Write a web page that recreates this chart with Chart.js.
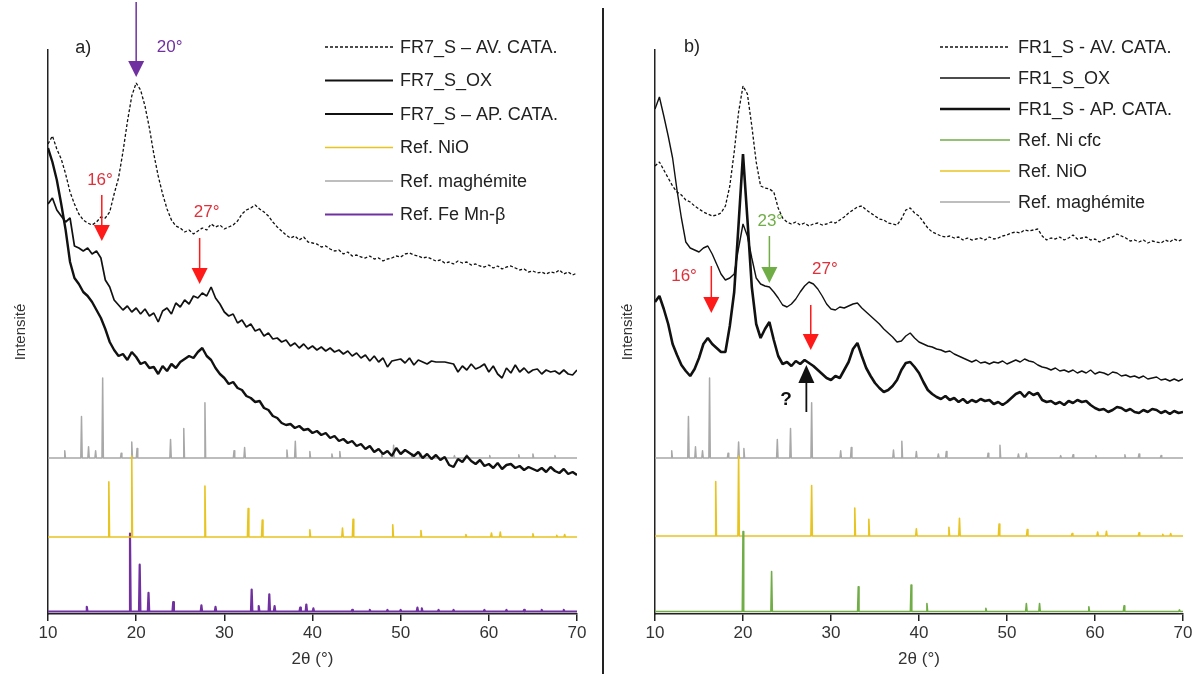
<!DOCTYPE html>
<html><head><meta charset="utf-8">
<script src="https://cdn.jsdelivr.net/npm/chart.js@4/dist/chart.umd.min.js"></script>
<style>
html,body{margin:0;padding:0;background:#fff;width:1196px;height:674px;overflow:hidden;}
#ca{position:absolute;left:0;top:0;}
#cb{position:absolute;left:600px;top:0;}
#div{position:absolute;left:602px;top:8px;width:2px;height:666px;background:#222;z-index:5;}
</style></head>
<body>
<canvas id="ca" width="600" height="674"></canvas>
<canvas id="cb" width="596" height="674"></canvas>
<div id="div"></div>
<script>
// ---------- DATA ----------
const twoTheta = [10,10.5,11,11.5,12,12.5,13,13.5,14,14.5,15,15.5,16,16.5,17,17.5,18,18.5,19,19.5,20,20.5,21,21.5,22,22.5,23,23.5,24,24.5,25,25.5,26,26.5,27,27.5,28,28.5,29,29.5,30,30.5,31,31.5,32,32.5,33,33.5,34,34.5,35,35.5,36,36.5,37,37.5,38,38.5,39,39.5,40,40.5,41,41.5,42,42.5,43,43.5,44,44.5,45,45.5,46,46.5,47,47.5,48,48.5,49,49.5,50,50.5,51,51.5,52,52.5,53,53.5,54,54.5,55,55.5,56,56.5,57,57.5,58,58.5,59,59.5,60,60.5,61,61.5,62,62.5,63,63.5,64,64.5,65,65.5,66,66.5,67,67.5,68,68.5,69,69.5,70];

// Panel a) FR7_S
const fr7AvCata = [470,478,465,455,440,422,410,400,394,391,389,392,397,396,402,420,436,462,492,518,531,524,508,486,460,438,420,405,394,388,386,382,384,380,383,386,384,390,387,389,385,387,389,393,400,404,406,409,405,402,398,392,387,383,379,376,378,374,377,372,371,370,367,368,365,363,364,360,362,358,359,357,356,358,355,356,353,355,356,358,357,360,361,359,358,356,357,355,353,354,351,352,350,353,351,352,349,350,348,347,349,346,348,345,347,348,346,344,345,342,343,341,342,340,342,341,344,340,342,339,341];
const fr7Ox = [410,416,404,398,392,396,368,366,363,366,360,363,356,334,327,314,309,304,308,302,306,300,305,298,301,292,303,306,300,311,307,314,310,318,316,321,318,327,316,310,302,298,300,291,294,287,290,283,285,278,281,275,276,272,274,268,271,266,270,265,268,264,267,263,266,262,264,260,263,258,261,256,259,253,258,252,256,247,253,254,255,251,256,249,254,252,250,253,252,252,252,251,250,242,248,244,250,245,247,250,242,248,240,236,246,241,249,242,246,241,244,245,240,244,242,243,240,244,240,239,244];
const fr7ApCata = [466,452,434,410,384,352,336,330,322,318,312,304,296,285,272,264,258,260,254,262,257,250,252,246,247,240,248,243,250,246,252,255,258,256,262,266,258,254,246,240,236,230,232,226,224,218,216,212,213,206,204,198,196,191,189,190,186,188,184,185,181,183,179,181,176,178,173,175,171,173,168,170,165,168,162,165,160,163,158,166,160,164,161,158,162,156,160,155,159,154,157,149,147,155,152,158,153,150,154,148,150,146,151,145,149,150,146,148,144,147,145,143,146,142,147,143,141,145,140,142,139];

// Panel b) FR1_S
const fr1AvCata = [448,452,444,436,428,422,419,414,412,408,405,402,400,398,399,401,408,428,462,502,528,520,488,452,428,426,425,422,406,396,392,390,392,389,391,388,390,391,389,390,392,391,394,397,401,404,407,408,404,401,398,395,394,391,390,389,395,404,406,401,398,392,386,382,380,378,377,378,376,377,374,376,374,375,376,374,377,375,376,378,379,381,382,381,384,383,384,385,378,374,376,375,377,374,376,379,375,376,377,374,375,372,374,376,377,380,378,376,373,374,372,374,371,373,372,371,374,372,375,373,375];
const fr1Ox = [505,517,498,478,456,424,396,372,366,364,362,366,368,360,350,340,334,336,340,366,390,378,356,336,330,328,327,322,316,309,307,310,315,322,328,332,330,325,318,310,305,304,307,306,308,310,311,306,302,298,294,290,285,281,277,272,273,278,281,276,272,270,268,267,265,264,262,263,260,258,256,254,252,254,251,252,250,252,251,253,250,252,254,252,255,253,252,249,247,246,244,246,243,244,242,244,241,243,241,244,240,242,241,239,242,241,238,239,237,238,236,238,235,236,237,234,235,233,235,233,235];
const fr1ApCata = [312,318,305,290,270,259,249,243,238,245,256,270,276,270,266,262,262,288,322,390,460,395,327,290,276,285,292,274,258,250,252,248,253,250,254,251,248,244,240,236,234,238,236,244,252,265,271,258,246,238,231,226,222,224,228,234,244,251,252,247,241,232,224,220,217,215,218,214,216,212,215,211,214,212,215,213,214,210,212,209,212,216,220,222,217,222,219,221,214,212,213,210,212,209,213,211,214,212,213,209,206,204,205,202,204,207,206,203,205,202,201,204,202,205,204,201,203,200,203,201,202];

// Reference patterns: peak positions (2θ) and relative intensities (%)
const maghemitePos = [11.9,13.8,14.6,15.4,16.2,18.3,19.5,20.1,23.9,25.4,27.8,31.1,32.3,37.1,38.05,39.7,42.2,43.1,47.85,49.2,51.3,52.2,56.1,57.5,60.1,63.4,65.0,67.5];
const maghemiteInt = [9,52,14,9,100,6,20,12,23,37,69,9,13,10,21,8,5,8,6,16,5,6,3,4,3,4,5,3];
const nioPos = [16.9,19.5,27.8,32.7,34.3,39.7,43.4,44.6,49.1,52.3,57.4,60.3,61.3,65.0,67.7,68.6];
const nioInt = [68,100,63,35,21,9,11,22,15,8,3,5,6,4,2,3];
const feMnPos = [14.4,19.3,20.4,21.4,24.2,27.4,29.0,33.1,33.9,35.1,35.7,38.6,39.3,40.1,44.5,46.5,48.5,50.0,51.9,52.4,54.3,56.0,59.5,62.0,64.0,66.0,68.5];
const feMnInt = [6,100,60,24,12,8,6,28,7,22,7,5,9,4,2,2,2,2,5,4,2,2,2,2,2,2,2];
const niCfcPos = [20.0,23.25,33.1,39.1,40.9,47.6,52.2,53.7,59.3,63.3,69.6];
const niCfcInt = [100,50,31,33,10,4,10,10,6,7,2];

const xTicks = [10,20,30,40,50,60,70];
const legendA = ['FR7_S – AV. CATA.','FR7_S_OX','FR7_S – AP. CATA.','Ref. NiO','Ref. maghémite','Ref. Fe Mn-β'];
const legendB = ['FR1_S - AV. CATA.','FR1_S_OX','FR1_S - AP. CATA.','Ref. Ni cfc','Ref. NiO','Ref. maghémite'];
const xTitle = '2θ (°)';
const yTitle = 'Intensité';

// ---------- HELPERS ----------
const FONT = "'Liberation Sans', Arial, sans-serif";
const C_NIO = '#e8c420', C_MAG = '#a8a8a8', C_FEMN = '#7030a0', C_NI = '#70ad47', C_RED = '#ff1a1a';

function series(ys){ return twoTheta.map((x,i)=>({x:x,y:ys[i]})); }
function sticks(pos, inten, base, full){
  const pts=[{x:10,y:base}];
  pos.forEach((p,i)=>{
    const h = base + inten[i]/100*full;
    pts.push({x:p-0.08,y:base},{x:p,y:h},{x:p+0.08,y:base});
  });
  pts.push({x:70,y:base});
  return pts;
}
function lineDs(label, data, color, width, dash, join){
  return {label, data, borderColor:color, borderWidth:width, borderDash:dash||[], pointRadius:0, tension:0, fill:false, borderJoinStyle:join||'round'};
}

function makeOptions(padLeft, padRight, anno, legendCfg){
  return {
    responsive:false, animation:false, devicePixelRatio:1,
    layout:{padding:{left:padLeft,right:padRight,top:50,bottom:2}},
    plugins:{legend:{display:false}, tooltip:{enabled:false},
      anno:{items:anno}, customLegend:legendCfg},
    scales:{
      x:{type:'linear', min:10, max:70,
        afterBuildTicks:(s)=>{ s.ticks = xTicks.map(v=>({value:v})); },
        afterFit:(s)=>{ s.height = 58; },
        ticks:{font:{family:FONT,size:17}, color:'#333', padding:2, maxRotation:0},
        grid:{display:true, drawOnChartArea:false, drawTicks:true, tickLength:7, color:'#222', lineWidth:1.5},
        border:{display:true, color:'#222', width:1.5},
        title:{display:true, text:xTitle, font:{family:FONT,size:17}, color:'#333', padding:{top:0,bottom:2}}
      },
      y:{min:0, max:564,
        afterFit:(s)=>{ s.width = 40; },
        ticks:{display:false},
        grid:{display:false},
        border:{display:true, color:'#222', width:1.5},
        title:{display:true, text:yTitle, font:{family:FONT,size:15}, color:'#333', padding:4}
      }
    }
  };
}

const annoPlugin = {
  id:'anno',
  afterDraw(chart, args, opts){
    const ctx = chart.ctx, xs = chart.scales.x, ys = chart.scales.y;
    ctx.save();
    (opts.items||[]).forEach(it=>{
      const X = xs.getPixelForValue(it.x);
      if(it.type==='text'){
        ctx.fillStyle = it.color; ctx.font = (it.bold?'bold ':'') + it.size + 'px ' + FONT;
        ctx.textAlign = 'center'; ctx.textBaseline = 'middle';
        ctx.fillText(it.text, X, ys.getPixelForValue(it.y));
      } else if(it.type==='arrow'){
        const Y1 = ys.getPixelForValue(it.y1), Y2 = ys.getPixelForValue(it.y2);
        const dir = Y2 > Y1 ? 1 : -1;
        const hl = it.head||16, hw = it.hw||8;
        ctx.strokeStyle = it.color; ctx.lineWidth = it.lw||1.5;
        ctx.beginPath(); ctx.moveTo(X, Y1); ctx.lineTo(X, Y2 - dir*hl*0.8); ctx.stroke();
        ctx.fillStyle = it.color;
        ctx.beginPath(); ctx.moveTo(X, Y2); ctx.lineTo(X-hw, Y2 - dir*hl); ctx.lineTo(X+hw, Y2 - dir*hl); ctx.closePath(); ctx.fill();
      }
    });
    ctx.restore();
  }
};

const legendPlugin = {
  id:'customLegend',
  afterDraw(chart, args, opts){
    const ctx = chart.ctx;
    ctx.save();
    opts.order.forEach((dsIndex, i)=>{
      const ds = chart.data.datasets[dsIndex];
      const y = opts.y0 + i*opts.dy;
      ctx.strokeStyle = ds.borderColor; ctx.lineWidth = ds.legendWidth || ds.borderWidth;
      ctx.setLineDash(ds.borderDash||[]);
      ctx.beginPath(); ctx.moveTo(opts.x0, y); ctx.lineTo(opts.x1, y); ctx.stroke();
      ctx.setLineDash([]);
      ctx.fillStyle = '#222'; ctx.font = opts.size + 'px ' + FONT;
      ctx.textAlign = 'left'; ctx.textBaseline = 'middle';
      ctx.fillText(ds.label, opts.tx, y+1);
    });
    ctx.restore();
  }
};

// ---------- PANEL A ----------
const dsA = [
  lineDs(legendA[0], series(fr7AvCata), '#111', 1.3, [3,2], 'bevel'),
  lineDs(legendA[1], series(fr7Ox), '#111', 1.7, null, 'bevel'),
  lineDs(legendA[2], series(fr7ApCata), '#111', 2.4, null, 'bevel'),
  lineDs(legendA[3], sticks(nioPos, nioInt, 77, 81), C_NIO, 1.6),
  lineDs(legendA[4], sticks(maghemitePos, maghemiteInt, 156, 80), C_MAG, 1.5),
  lineDs(legendA[5], sticks(feMnPos, feMnInt, 2.5, 78), C_FEMN, 2.2)
];
dsA[1].legendWidth = 2;
dsA[2].legendWidth = 2.2;
const annoA = [
  {type:'text', text:'a)', x:14.0, y:566, color:'#222', size:18},
  {type:'arrow', x:20.0, y1:612, y2:537, color:C_FEMN, lw:1.5, head:16, hw:8},
  {type:'text', text:'20°', x:23.8, y:567, color:C_FEMN, size:17},
  {type:'text', text:'16°', x:15.9, y:434, color:'#e0303a', size:17},
  {type:'arrow', x:16.1, y1:419, y2:373, color:C_RED, lw:1.5, head:16, hw:8},
  {type:'text', text:'27°', x:28.0, y:402, color:'#e0303a', size:17},
  {type:'arrow', x:27.2, y1:376, y2:330, color:C_RED, lw:1.5, head:16, hw:8}
];
new Chart(document.getElementById('ca'), {
  type:'line',
  data:{datasets:dsA},
  options:makeOptions(8, 23, annoA, {order:[0,1,2,3,4,5], x0:325, x1:393, tx:400, y0:47, dy:33.5, size:18}),
  plugins:[annoPlugin, legendPlugin]
});

// ---------- PANEL B ----------
const dsB = [
  lineDs(legendB[0], series(fr1AvCata), '#111', 1.3, [3,2], 'bevel'),
  lineDs(legendB[1], series(fr1Ox), '#111', 1.4, null, 'bevel'),
  lineDs(legendB[2], series(fr1ApCata), '#111', 2.6, null, 'bevel'),
  lineDs(legendB[3], sticks(niCfcPos, niCfcInt, 2.5, 80), C_NI, 1.6),
  lineDs(legendB[4], sticks(nioPos, nioInt, 78, 80), C_NIO, 1.6),
  lineDs(legendB[5], sticks(maghemitePos, maghemiteInt, 156, 80), C_MAG, 1.5)
];
const annoB = [
  {type:'text', text:'b)', x:14.2, y:567, color:'#222', size:18},
  {type:'text', text:'23°', x:23.1, y:393, color:C_NI, size:17},
  {type:'arrow', x:23.0, y1:378, y2:331, color:C_NI, lw:1.5, head:16, hw:8},
  {type:'text', text:'16°', x:13.3, y:338, color:'#e0303a', size:17},
  {type:'arrow', x:16.4, y1:348, y2:301, color:C_RED, lw:1.5, head:16, hw:8},
  {type:'text', text:'27°', x:29.3, y:345, color:'#e0303a', size:17},
  {type:'arrow', x:27.7, y1:309, y2:264, color:C_RED, lw:1.5, head:16, hw:8},
  {type:'arrow', x:27.2, y1:202, y2:249, color:'#111', lw:1.8, head:18, hw:8},
  {type:'text', text:'?', x:24.9, y:214, color:'#111', size:19, bold:true}
];
new Chart(document.getElementById('cb'), {
  type:'line',
  data:{datasets:dsB},
  options:makeOptions(15, 13, annoB, {order:[0,1,2,3,4,5], x0:340, x1:410, tx:418, y0:47, dy:31, size:18}),
  plugins:[annoPlugin, legendPlugin]
});
</script>
</body></html>
